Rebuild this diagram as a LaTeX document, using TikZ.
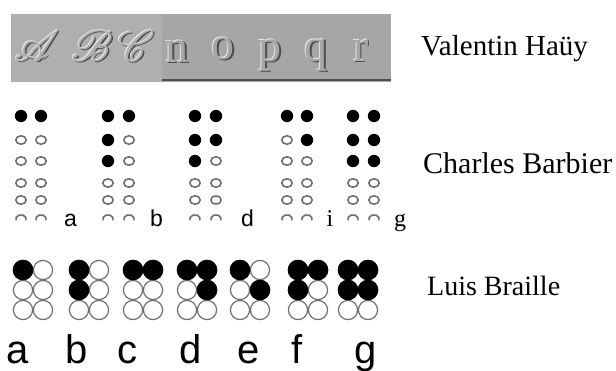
\documentclass[tikz,border=0pt]{standalone}
\usepackage{fontspec}
\usepackage{graphicx}
\usepackage{mathrsfs}
\newfontfamily\serif{Liberation Serif}
\newfontfamily\sans{Liberation Sans}
\definecolor{bandL}{HTML}{AFAFAF}
\definecolor{bandR}{HTML}{A6A6A6}
\definecolor{shD}{HTML}{4E4E4E}
\definecolor{hiL}{HTML}{E6E6E6}
\definecolor{ring}{HTML}{6E6E6E}
\newcommand\emboss[5]{%
  \node[anchor=base,inner sep=0,text=shD] (#1s) at ($(#2,#3)+(1.5,1.5)$) {#5};
  \node[anchor=base,inner sep=0,text=hiL] (#1h) at ($(#2,#3)+(-1,-1)$) {#5};
  \node[anchor=base,inner sep=0,text=#4] (#1) at (#2,#3) {#5};
}
\newcommand\scrlet[1]{\fontsize{24.88}{26}\selectfont\scalebox{1.75}{$\mathscr{#1}$}}
\newcommand\lowlet[1]{\serif\fontsize{46}{48}\selectfont #1}
\usetikzlibrary{calc}
\begin{document}
\begin{tikzpicture}[x=1pt,y=-1pt,
  bfull/.style={fill=black},
  bopen/.style={draw=ring,line width=1.6},
  cfull/.style={fill=black},
  copen/.style={fill=white,draw=ring,line width=1.2},
  persname/.style={inner sep=0,anchor=base west,font=\serif\fontsize{29}{30}\selectfont},
  blab/.style={inner sep=0,anchor=base,font=\sans\fontsize{23}{24}\selectfont},
  slab/.style={inner sep=0,anchor=base,font=\serif\fontsize{24}{25}\selectfont},
  clab/.style={inner sep=0,anchor=base,font=\sans\fontsize{40}{42}\selectfont}]
\useasboundingbox (0,0) rectangle (616,370);
\fill[white] (0,0) rectangle (616,370);
% Hauy band
\fill[bandL] (11,14) rectangle (162,82);
\fill[bandR] (162,14) rectangle (391,82);
\draw[shD,line width=1.5] (162,80) -- (391,80);
\emboss{hA}{37}{61}{bandL}{\scrlet{A}}
\emboss{hB}{92}{61}{bandL}{\scrlet{B}}
\emboss{hC}{136}{61}{bandL}{\scrlet{C}}
\emboss{hn}{177}{62}{bandR}{\lowlet{n}}
\emboss{ho}{223}{59}{bandR}{\lowlet{o}}
\emboss{hp}{270}{61}{bandR}{\lowlet{p}}
\emboss{hq}{316}{61}{bandR}{\lowlet{q}}
\emboss{hr}{361}{61}{bandR}{\lowlet{r}}
% names
\node[persname] (vh) at (421,55) {Valentin Haüy};
\node[persname,font=\serif\fontsize{30}{31}\selectfont] (cb) at (423,173) {Charles Barbier};
\node[persname,font=\serif\fontsize{28}{29}\selectfont] (lb) at (427,295) {Luis Braille};
% Barbier cells: open dots
\foreach \x in {21,41,108,129,195,216,287,307,353,374}{
  \foreach \y in {116,140,161,183,200}{
    \draw[bopen] (\x,\y) ellipse [x radius=5.2,y radius=4.2];
  }
  \draw[bopen] ($(\x,219)+(160:5.2 and 4.2)$) arc[start angle=160,end angle=380,x radius=5.2,y radius=4.2];
}
% Barbier filled dots
\foreach \x/\y in {21/116,41/116,
  108/116,129/116,108/140,108/161,
  195/116,216/116,195/140,216/140,195/161,
  287/116,307/116,307/140,
  353/116,374/116,353/140,374/140,353/161,374/161}{
  \fill[bfull] (\x,\y) circle[radius=6.2];
}
\node[blab] (ba) at (70.5,226) {a};
\node[blab] (bb) at (156.5,226) {b};
\node[blab] (bd) at (247.5,226) {d};
\node[slab] (bi) at (330,226) {i};
\node[slab] (bg) at (400,226) {g};
% Braille cells: open
\foreach \x in {23,43,79,99,133,153,187,207,240,260,298,318,348,368}{
  \foreach \y in {270,290,310}{
    \draw[copen] (\x,\y) circle[radius=9.6];
  }
}
\foreach \x/\y in {23/270,
  79/270,79/290,
  133/270,153/270,
  187/270,207/270,207/290,
  240/270,260/290,
  298/270,318/270,298/290,
  348/270,368/270,348/290,368/290}{
  \fill[cfull] (\x,\y) circle[radius=10.3];
}
\node[clab] (la) at (17.5,363) {a};
\node[clab] (lbb) at (76.5,363) {b};
\node[clab] (lc) at (127.5,363) {c};
\node[clab] (ld) at (191,363) {d};
\node[clab] (le) at (249,363) {e};
\node[clab] (lf) at (297.5,363) {f};
\node[clab] (lg) at (366,363) {g};
\end{tikzpicture}
\end{document}
